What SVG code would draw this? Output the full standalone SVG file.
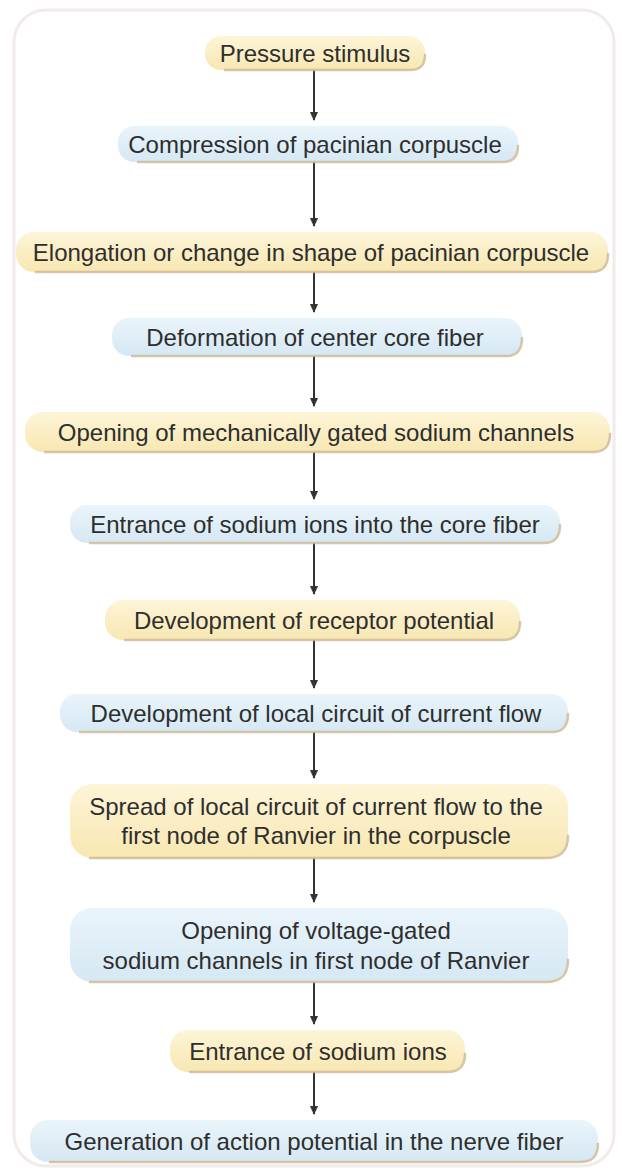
<svg xmlns="http://www.w3.org/2000/svg" width="622" height="1173" viewBox="0 0 622 1173">
<style>
.t{font-family:"Liberation Sans",Arial,sans-serif;font-size:24px;fill:#2e2e2e;text-anchor:middle;dominant-baseline:central}
.y{fill:url(#gy)}
.b{fill:url(#gb)}
.sh{fill:none;stroke:#cdb892;stroke-width:2.5;stroke-linecap:round;opacity:.8}
.c{stroke:#333;stroke-width:2;fill:none}
</style>
<defs>
<linearGradient id="gy" x1="0" y1="0" x2="0" y2="1">
<stop offset="0" stop-color="#fdf5d8"/><stop offset="1" stop-color="#f8e7b2"/>
</linearGradient>
<linearGradient id="gb" x1="0" y1="0" x2="0" y2="1">
<stop offset="0" stop-color="#eaf4fa"/><stop offset="1" stop-color="#d5e8f4"/>
</linearGradient>
<marker id="ah" markerWidth="10" markerHeight="10" refX="8" refY="5" orient="auto" markerUnits="userSpaceOnUse">
<path d="M0,1 L9,5 L0,9 Z" fill="#333"/>
</marker>
</defs>
<rect x="0" y="0" width="622" height="1173" fill="#fff"/>
<rect x="14" y="10" width="600" height="1156" rx="32" fill="#fff" stroke="#f3eaea" stroke-width="3"/>

<g id="connectors">
<line class="c" x1="314" y1="70" x2="314" y2="120" marker-end="url(#ah)"/>
<line class="c" x1="314" y1="162" x2="314" y2="226" marker-end="url(#ah)"/>
<line class="c" x1="314" y1="272" x2="314" y2="312" marker-end="url(#ah)"/>
<line class="c" x1="314" y1="356" x2="314" y2="406" marker-end="url(#ah)"/>
<line class="c" x1="314" y1="452" x2="314" y2="499" marker-end="url(#ah)"/>
<line class="c" x1="314" y1="543" x2="314" y2="594" marker-end="url(#ah)"/>
<line class="c" x1="314" y1="640" x2="314" y2="688" marker-end="url(#ah)"/>
<line class="c" x1="314" y1="732" x2="314" y2="778" marker-end="url(#ah)"/>
<line class="c" x1="314" y1="858" x2="314" y2="902" marker-end="url(#ah)"/>
<line class="c" x1="314" y1="982" x2="314" y2="1024" marker-end="url(#ah)"/>
<line class="c" x1="314" y1="1072" x2="314" y2="1114" marker-end="url(#ah)"/>
</g>

<g id="n1"><rect class="y" x="205" y="36" width="220" height="34" rx="16"/><path class="sh" d="M225,70 H410 Q425,70 425,55"/><text class="t" x="315" y="53">Pressure stimulus</text></g>
<g id="n2"><rect class="b" x="118" y="126" width="400" height="36" rx="16"/><path class="sh" d="M138,162 H503 Q518,162 518,146"/><text class="t" x="315" y="144">Compression of pacinian corpuscle</text></g>
<g id="n3"><rect class="y" x="16" y="232" width="592" height="40" rx="18"/><path class="sh" d="M36,272 H591 Q608,272 608,254"/><text class="t" x="311" y="252">Elongation or change in shape of pacinian corpuscle</text></g>
<g id="n4"><rect class="b" x="112" y="318" width="410" height="38" rx="17"/><path class="sh" d="M132,356 H506 Q522,356 522,338"/><text class="t" x="315" y="337">Deformation of center core fiber</text></g>
<g id="n5"><rect class="y" x="25" y="412" width="585" height="40" rx="18"/><path class="sh" d="M45,452 H593 Q610,452 610,434"/><text class="t" x="316" y="432">Opening of mechanically gated sodium channels</text></g>
<g id="n6"><rect class="b" x="70" y="505" width="490" height="38" rx="17"/><path class="sh" d="M90,543 H544 Q560,543 560,525"/><text class="t" x="315" y="524">Entrance of sodium ions into the core fiber</text></g>
<g id="n7"><rect class="y" x="105" y="600" width="415" height="40" rx="18"/><path class="sh" d="M125,640 H503 Q520,640 520,622"/><text class="t" x="314" y="620">Development of receptor potential</text></g>
<g id="n8"><rect class="b" x="60" y="694" width="508" height="38" rx="17"/><path class="sh" d="M80,732 H552 Q568,732 568,714"/><text class="t" x="316" y="713">Development of local circuit of current flow</text></g>
<g id="n9"><rect class="y" x="70" y="784" width="498" height="74" rx="22"/><path class="sh" d="M90,858 H546 Q568,858 568,836"/><text class="t" x="316" y="806">Spread of local circuit of current flow to the</text><text class="t" x="316" y="835">first node of Ranvier in the corpuscle</text></g>
<g id="n10"><rect class="b" x="70" y="908" width="498" height="74" rx="22"/><path class="sh" d="M90,982 H546 Q568,982 568,960"/><text class="t" x="316" y="930">Opening of voltage-gated</text><text class="t" x="316" y="960">sodium channels in first node of Ranvier</text></g>
<g id="n11"><rect class="y" x="170" y="1030" width="295" height="42" rx="18"/><path class="sh" d="M190,1072 H447 Q465,1072 465,1054"/><text class="t" x="318" y="1051">Entrance of sodium ions</text></g>
<g id="n12"><rect class="b" x="30" y="1120" width="568" height="42" rx="18"/><path class="sh" d="M50,1162 H580 Q598,1162 598,1144"/><text class="t" x="314" y="1141">Generation of action potential in the nerve fiber</text></g>
</svg>
